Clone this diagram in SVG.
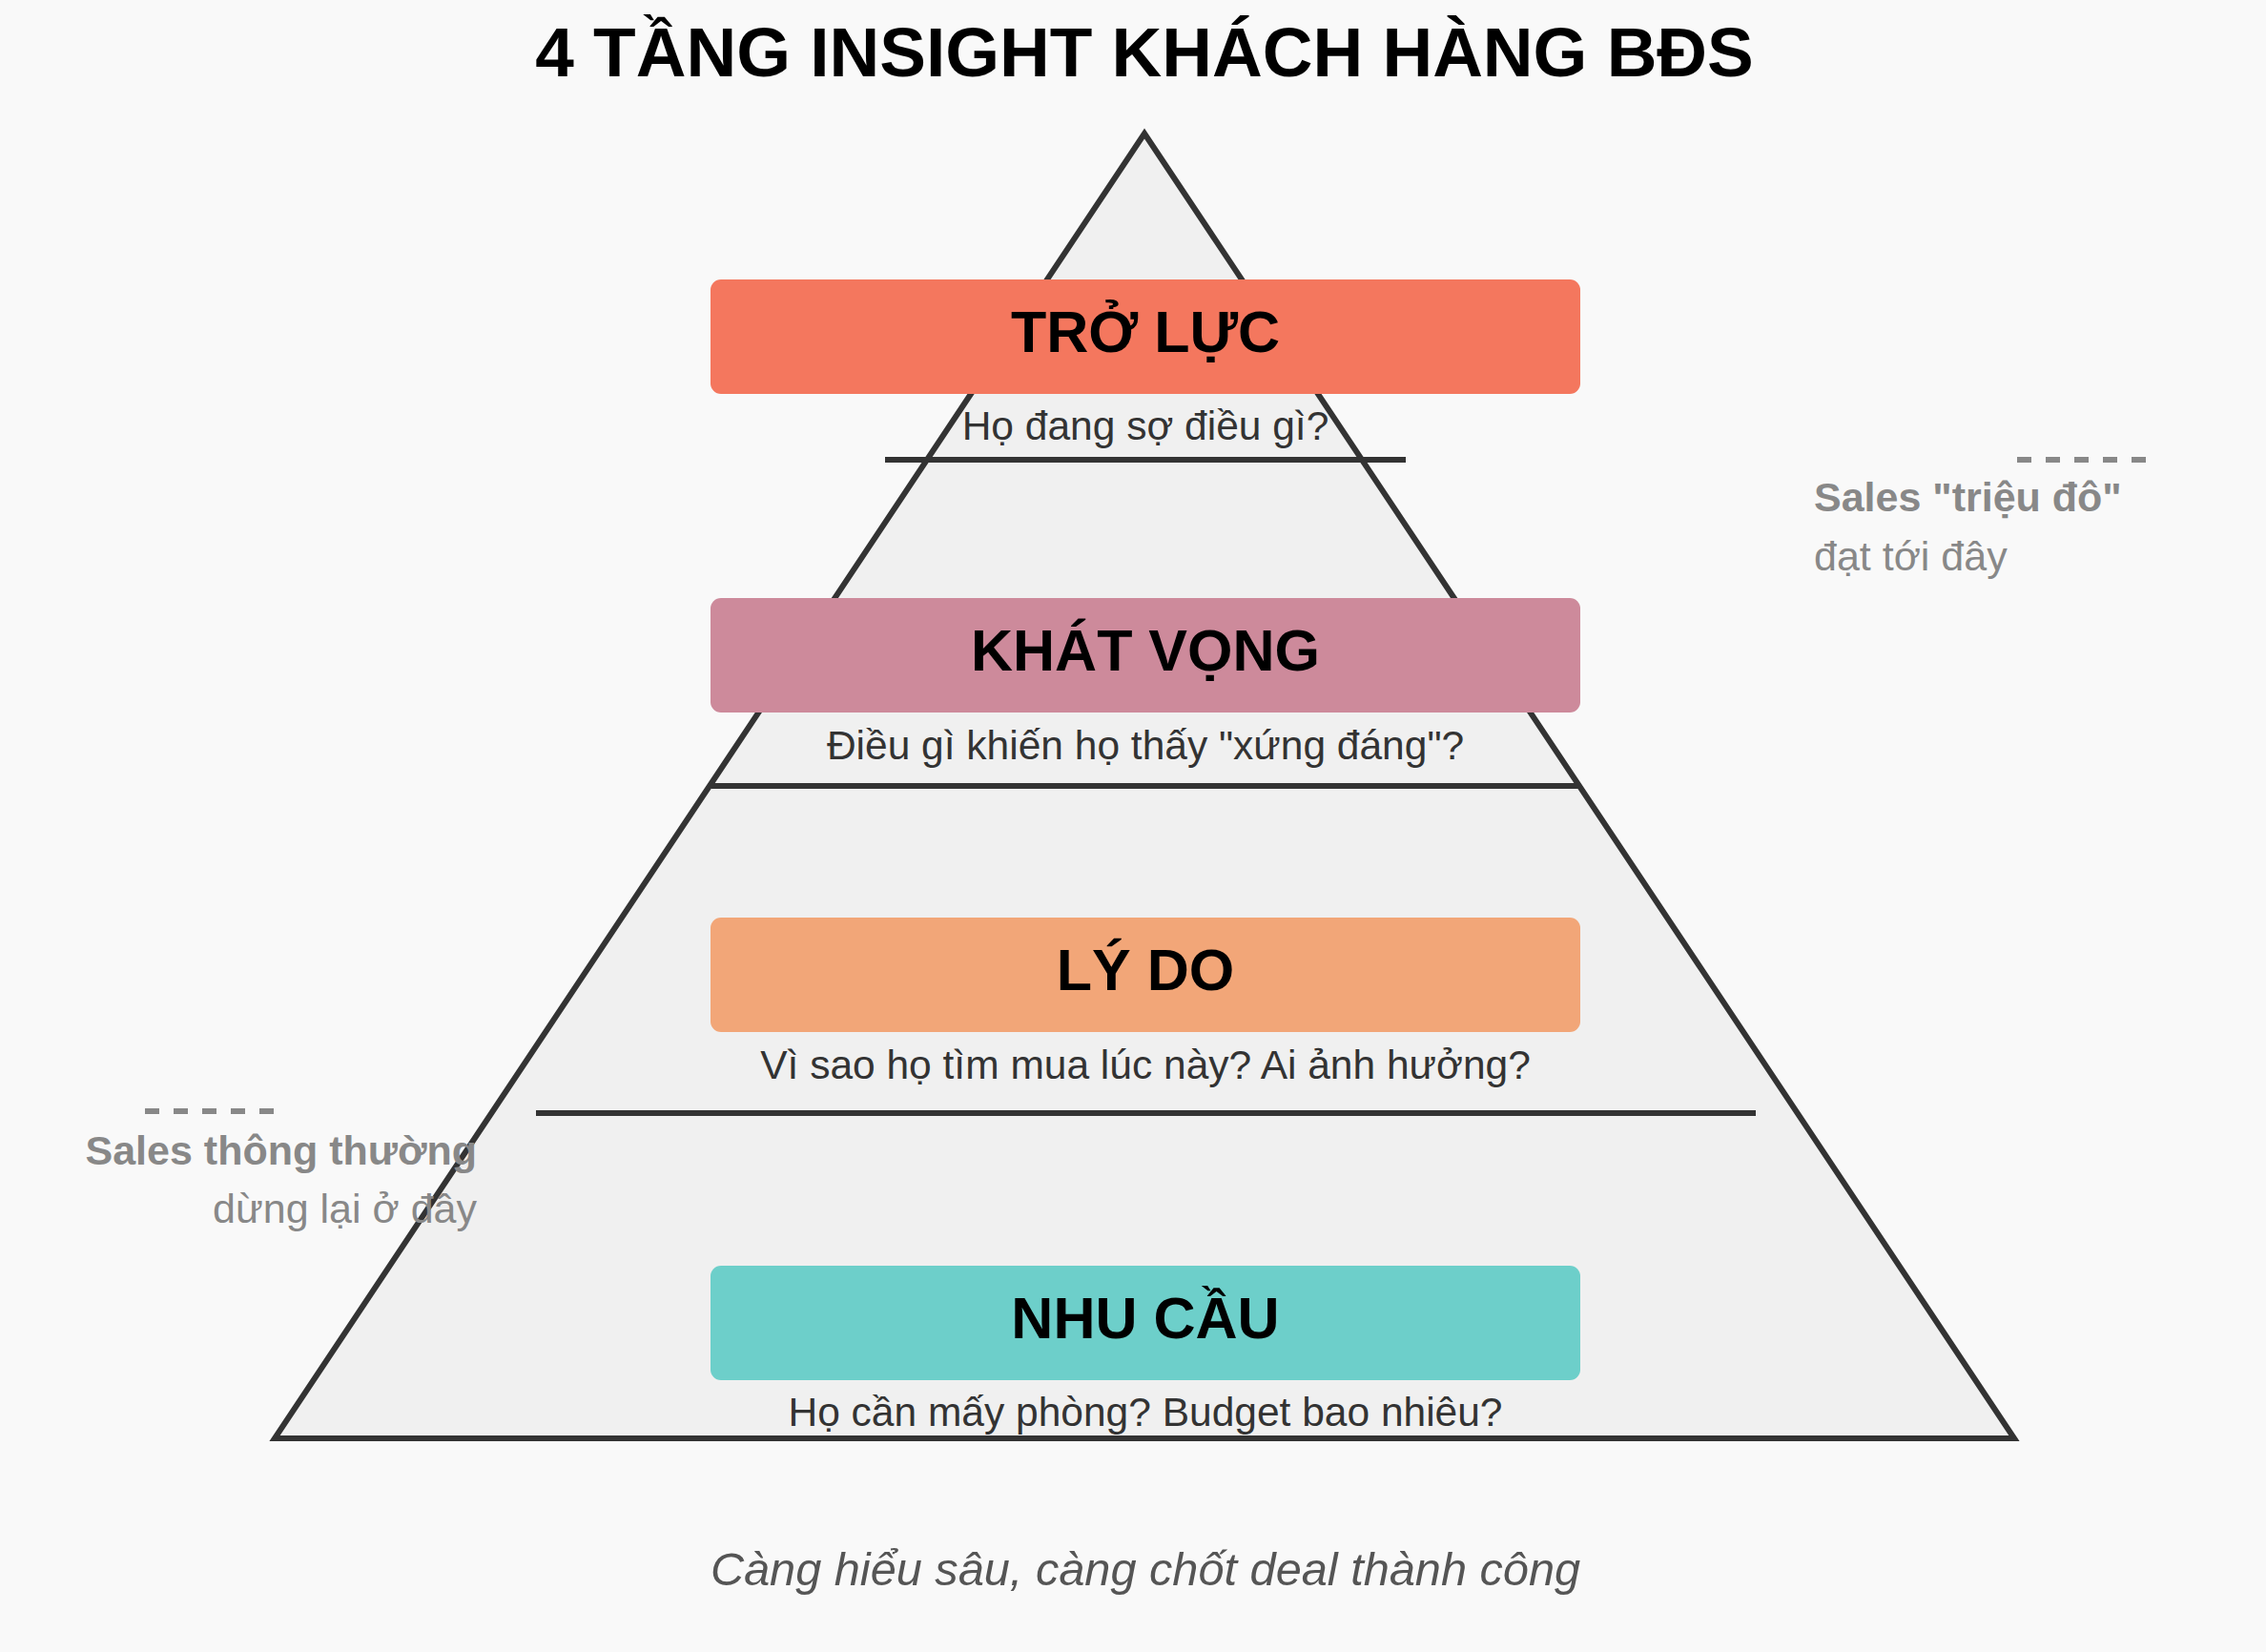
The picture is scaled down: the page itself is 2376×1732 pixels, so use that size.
<svg xmlns="http://www.w3.org/2000/svg" width="2376" height="1732" viewBox="0 0 2376 1732">
<style>
.bg{fill:#F9F9F9}
.pyr{fill:#F0F0F0;stroke:#333333;stroke-width:6;stroke-linejoin:miter}
.sep{stroke:#333333;stroke-width:6}
.box{stroke:none}
.lbl{font-family:"Liberation Sans",Arial,sans-serif;font-weight:bold;font-size:61px;fill:#000000;text-anchor:middle}
.sub{font-family:"Liberation Sans",Arial,sans-serif;font-size:42.5px;fill:#333333;text-anchor:middle}
.side-b{font-family:"Liberation Sans",Arial,sans-serif;font-weight:bold;font-size:43px;fill:#888888}
.side{font-family:"Liberation Sans",Arial,sans-serif;font-size:43px;fill:#888888}
.dash{stroke:#888888;stroke-width:6;stroke-dasharray:15 15}
</style>
<rect class="bg" x="0" y="0" width="2376" height="1732"/>
<text x="1200" y="80" font-family="Liberation Sans, Arial, sans-serif" font-weight="bold" font-size="73" fill="#000000" text-anchor="middle">4 TẦNG INSIGHT KHÁCH HÀNG BĐS</text>

<g id="pyramid">
<polygon class="pyr" points="1200,140 288,1508 2112,1508"/>
</g>
<g id="separators">
<line class="sep" x1="928" y1="482" x2="1474" y2="482"/>
<line class="sep" x1="746" y1="824" x2="1656" y2="824"/>
<line class="sep" x1="562" y1="1167" x2="1841" y2="1167"/>
</g>

<g id="side-left">
<line class="dash" x1="152" y1="1165" x2="290" y2="1165"/>
<text class="side-b" x="500" y="1221" text-anchor="end">Sales thông thường</text>
<text class="side" x="500" y="1282" text-anchor="end">dừng lại ở đây</text>
</g>

<g id="side-right">
<line class="dash" x1="2115" y1="482" x2="2252" y2="482"/>
<text class="side-b" x="1902" y="536">Sales "triệu đô"</text>
<text class="side" x="1902" y="598">đạt tới đây</text>
</g>

<g id="node-tro-luc">
<rect class="box" x="745" y="293" width="912" height="120" rx="11" fill="#F4775E"/>
<text class="lbl" x="1201" y="369">TRỞ LỰC</text>
<text class="sub" x="1201" y="461">Họ đang sợ điều gì?</text>
</g>
<g id="node-khat-vong">
<rect class="box" x="745" y="627" width="912" height="120" rx="11" fill="#CD8A9B"/>
<text class="lbl" x="1201" y="703">KHÁT VỌNG</text>
<text class="sub" x="1201" y="796">Điều gì khiến họ thấy "xứng đáng"?</text>
</g>
<g id="node-ly-do">
<rect class="box" x="745" y="962" width="912" height="120" rx="11" fill="#F2A678"/>
<text class="lbl" x="1201" y="1038">LÝ DO</text>
<text class="sub" x="1201" y="1131">Vì sao họ tìm mua lúc này? Ai ảnh hưởng?</text>
</g>
<g id="node-nhu-cau">
<rect class="box" x="745" y="1327" width="912" height="120" rx="11" fill="#6DCFCA"/>
<text class="lbl" x="1201" y="1403">NHU CẦU</text>
<text class="sub" x="1201" y="1495">Họ cần mấy phòng? Budget bao nhiêu?</text>
</g>

<text x="1201" y="1662" font-family="Liberation Sans, Arial, sans-serif" font-style="italic" font-size="48.7" fill="#555555" text-anchor="middle">Càng hiểu sâu, càng chốt deal thành công</text>
</svg>
